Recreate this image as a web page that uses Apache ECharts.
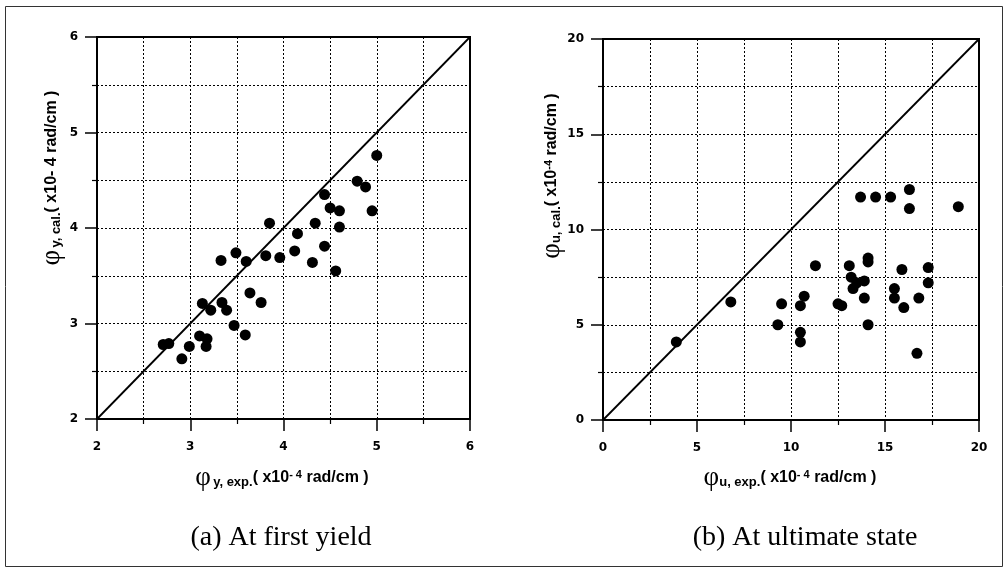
<!DOCTYPE html>
<html>
<head>
<meta charset="utf-8">
<script src="https://cdn.jsdelivr.net/npm/echarts@6/dist/echarts.min.js"></script>
<style>
  html, body { margin: 0; padding: 0; background: #fff; }
  #chart { width: 1008px; height: 570px; }
</style>
</head>
<body>
<div id="chart"></div>
<script>
// Curvature at first yield: experimental vs calculated (x10^-4 rad/cm)
const yieldExp = [2.71, 2.77, 2.91, 2.99, 3.10, 3.18, 3.17, 3.13, 3.22, 3.34, 3.39, 3.47,
  3.59, 3.64, 3.76, 3.33, 3.49, 3.60, 3.81, 3.96, 4.12, 3.85, 4.15, 4.31, 4.44, 4.34,
  4.44, 4.56, 4.50, 4.60, 4.60, 4.79, 4.88, 4.95, 5.00];
const yieldCal = [2.78, 2.79, 2.63, 2.76, 2.87, 2.84, 2.76, 3.21, 3.14, 3.22, 3.14, 2.98,
  2.88, 3.32, 3.22, 3.66, 3.74, 3.65, 3.71, 3.69, 3.76, 4.05, 3.94, 3.64, 4.35, 4.05,
  3.81, 3.55, 4.21, 4.18, 4.01, 4.49, 4.43, 4.18, 4.76];

// Curvature at ultimate state: experimental vs calculated (x10^-4 rad/cm)
const ultExp = [3.9, 6.8, 9.3, 9.5, 10.5, 10.7, 10.5, 10.5, 11.3, 12.5, 12.7, 13.1, 13.2,
  13.3, 13.5, 13.7, 13.9, 13.9, 14.1, 14.1, 14.1, 14.5, 15.3, 15.5, 15.5, 15.9, 16.0,
  16.3, 16.3, 16.8, 16.7, 17.3, 17.3, 18.9];
const ultCal = [4.1, 6.2, 5.0, 6.1, 6.0, 6.5, 4.6, 4.1, 8.1, 6.1, 6.0, 8.1, 7.5,
  6.9, 7.2, 11.7, 7.3, 6.4, 8.3, 8.5, 5.0, 11.7, 11.7, 6.9, 6.4, 7.9, 5.9,
  12.1, 11.1, 6.4, 3.5, 8.0, 7.2, 11.2];

// Line of equality for each panel
const yieldDiag = [2, 6];
const ultDiag = [0, 20];

// Axis ranges and tick steps
const yieldRange = [2, 6, 1];
const ultRange = [0, 20, 5];

const pairs = (xs, ys) => xs.map((x, i) => [x, ys[i]]);

const tickFont = { fontFamily: 'DejaVu Sans', fontWeight: 'bold', fontSize: 12, color: '#000' };
const dotted = { type: [2, 2], color: '#000', width: 1 };

function axis(range, gridIndex, isX) {
  return {
    type: 'value',
    gridIndex: gridIndex,
    min: range[0], max: range[1], interval: range[2],
    axisLine: { show: true, onZero: false, lineStyle: { color: '#000', width: 2 } },
    axisTick: { show: true, inside: false, length: 12, lineStyle: { color: '#000', width: 1.5 } },
    minorTick: { show: true, splitNumber: 2, length: 5, lineStyle: { color: '#000', width: 1.2 } },
    splitLine: { show: true, lineStyle: dotted },
    minorSplitLine: { show: true, lineStyle: dotted },
    axisLabel: Object.assign({ margin: isX ? 22 : 19 }, tickFont)
  };
}

// Axis title pieces
const titleRich = {
  phi: { fontFamily: 'Liberation Serif', fontSize: 27, color: '#000', lineHeight: 28 },
  sp: { fontSize: 8 },
  sub: { fontFamily: 'Liberation Sans', fontWeight: 'bold', fontSize: 13, color: '#000', verticalAlign: 'bottom', padding: [0, 0, 3, 0] },
  n: { fontFamily: 'Liberation Sans', fontWeight: 'bold', fontSize: 16, color: '#000' },
  sup: { fontFamily: 'Liberation Sans', fontWeight: 'bold', fontSize: 11, color: '#000', verticalAlign: 'top', padding: [5, 0, 0, 0] }
};

function textEl(x, y, text, rotation) {
  return {
    type: 'text', x: x, y: y, rotation: rotation || 0, silent: true,
    style: { text: text, rich: titleRich, align: 'center', verticalAlign: 'middle' }
  };
}

function caption(x, text) {
  return {
    type: 'text', x: x, y: 538, silent: true,
    style: { text: text, fontFamily: 'Liberation Serif', fontSize: 28, fill: '#000', align: 'center', verticalAlign: 'middle' }
  };
}

const chart = echarts.init(document.getElementById('chart'), null, { renderer: 'canvas' });

chart.setOption({
  backgroundColor: '#fff',
  animation: false,
  grid: [
    { left: 97, top: 37, width: 373, height: 382, show: true, borderColor: '#000', borderWidth: 2, backgroundColor: 'transparent' },
    { left: 603, top: 39, width: 376, height: 381, show: true, borderColor: '#000', borderWidth: 2, backgroundColor: 'transparent' }
  ],
  xAxis: [axis(yieldRange, 0, true), axis(ultRange, 1, true)],
  yAxis: [axis(yieldRange, 0, false), axis(ultRange, 1, false)],
  series: [
    {
      type: 'line', xAxisIndex: 0, yAxisIndex: 0, silent: true, symbol: 'none',
      data: pairs(yieldDiag, yieldDiag), lineStyle: { color: '#000', width: 1.8 }
    },
    {
      type: 'scatter', xAxisIndex: 0, yAxisIndex: 0, symbol: 'circle', symbolSize: 11,
      data: pairs(yieldExp, yieldCal), itemStyle: { color: '#000', opacity: 1 }
    },
    {
      type: 'line', xAxisIndex: 1, yAxisIndex: 1, silent: true, symbol: 'none',
      data: pairs(ultDiag, ultDiag), lineStyle: { color: '#000', width: 1.8 }
    },
    {
      type: 'scatter', xAxisIndex: 1, yAxisIndex: 1, symbol: 'circle', symbolSize: 11,
      data: pairs(ultExp, ultCal), itemStyle: { color: '#000', opacity: 1 }
    }
  ],
  graphic: [
    {
      type: 'rect', silent: true,
      shape: { x: 5.5, y: 6.5, width: 997, height: 560 },
      style: { fill: 'none', stroke: '#333', lineWidth: 1 }
    },
    textEl(282, 478, '{phi|φ}{sp| }{sub|y, exp.}{n|( x10}{sup|- 4}{n| rad/cm )}'),
    textEl(790, 478, '{phi|φ}{sub|u, exp.}{n|( x10}{sup|- 4}{n| rad/cm )}'),
    textEl(52, 178, '{phi|φ}{sp| }{sub|y, cal.}{n|( x10- 4 rad/cm )}', Math.PI / 2),
    textEl(552, 176, '{phi|φ}{sub|u, cal.}{n|( x10}{sup|-4}{n| rad/cm )}', Math.PI / 2),
    caption(281, '(a) At first yield'),
    caption(805, '(b) At ultimate state')
  ]
});
</script>
</body>
</html>
